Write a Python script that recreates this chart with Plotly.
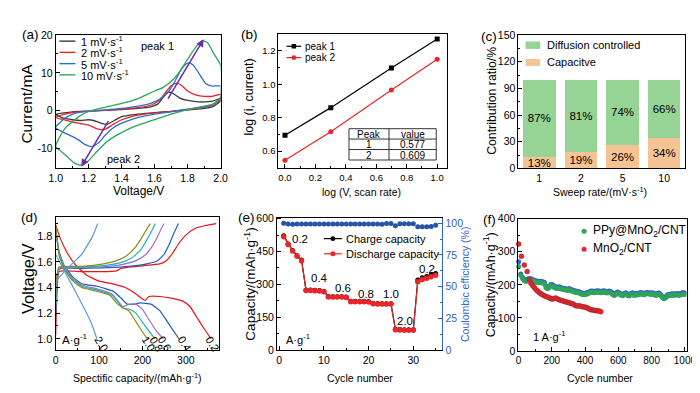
import plotly.graph_objects as go

W, H = 700, 393
FONT = "Arial, Liberation Sans, sans-serif"


def X(p):
    return p / W


def Y(p):
    return 1 - p / H


# ---------------- (a) cyclic voltammetry ----------------
cv_labels = ["1 mV·s<sup>-1</sup>", "2 mV·s<sup>-1</sup>", "5 mV·s<sup>-1</sup>", "10 mV·s<sup>-1</sup>"]
cv_colors = ["#3a3a3a", "#e8262a", "#2a6fc9", "#2fa35c"]

cv1_v_an = [1.00, 1.05, 1.10, 1.20, 1.30, 1.40, 1.50, 1.58, 1.62, 1.65, 1.68, 1.71, 1.75, 1.80, 1.85, 1.90, 1.95, 2.00]
cv1_i_an = [-1.0, -0.6, -0.3, -0.1, 0.1, 0.3, 0.6, 1.1, 1.8, 3.4, 4.9, 4.6, 3.4, 2.7, 2.4, 2.3, 2.5, 3.2]
cv1_v_ca = [2.00, 1.95, 1.90, 1.80, 1.70, 1.60, 1.50, 1.45, 1.40, 1.36, 1.31, 1.27, 1.23, 1.20, 1.15, 1.10, 1.05, 1.00]
cv1_i_ca = [2.6, 1.0, 0.6, 0.2, -0.2, -0.5, -0.9, -1.2, -1.6, -2.5, -3.6, -3.2, -2.6, -2.4, -2.6, -2.4, -2.0, -1.0]

cv2_v_an = [1.00, 1.05, 1.10, 1.20, 1.30, 1.40, 1.50, 1.58, 1.63, 1.67, 1.70, 1.73, 1.76, 1.80, 1.85, 1.90, 1.95, 2.00]
cv2_i_an = [-1.8, -1.0, -0.5, -0.2, 0.1, 0.4, 0.8, 1.5, 2.8, 5.0, 6.6, 7.2, 6.8, 5.2, 4.2, 3.8, 3.8, 4.3]
cv2_v_ca = [2.00, 1.95, 1.90, 1.80, 1.70, 1.60, 1.50, 1.45, 1.40, 1.35, 1.30, 1.27, 1.24, 1.20, 1.15, 1.10, 1.05, 1.00]
cv2_i_ca = [3.0, 1.4, 0.9, 0.3, -0.2, -0.6, -1.2, -1.7, -2.4, -3.6, -4.9, -5.0, -4.6, -3.8, -3.4, -3.0, -2.4, -1.8]

cv5_v_an = [1.00, 1.05, 1.10, 1.15, 1.20, 1.30, 1.40, 1.50, 1.58, 1.63, 1.68, 1.72, 1.76, 1.80, 1.83, 1.87, 1.91, 1.95, 2.00]
cv5_i_an = [-4.5, -2.2, -1.0, -0.4, -0.1, 0.2, 0.6, 1.2, 2.0, 3.0, 4.8, 7.5, 10.8, 12.6, 12.2, 9.8, 7.2, 6.5, 6.5]
cv5_v_ca = [2.00, 1.95, 1.90, 1.80, 1.70, 1.60, 1.50, 1.45, 1.40, 1.35, 1.30, 1.26, 1.22, 1.18, 1.14, 1.10, 1.05, 1.00]
cv5_i_ca = [3.5, 1.6, 1.0, 0.4, -0.3, -0.9, -1.8, -2.5, -3.3, -4.5, -6.5, -8.5, -9.5, -9.0, -7.8, -6.8, -5.8, -4.5]

cv10_v_an = [1.00, 1.03, 1.06, 1.10, 1.15, 1.20, 1.25, 1.30, 1.40, 1.50, 1.55, 1.60, 1.65, 1.70, 1.75, 1.80, 1.85, 1.89, 1.92, 1.96, 2.00]
cv10_i_an = [-9.5, -6.5, -4.5, -3.0, -1.3, -0.2, 0.4, 0.9, 1.9, 3.2, 4.2, 5.2, 6.1, 7.7, 10.2, 13.6, 16.8, 18.5, 18.0, 15.0, 12.0]
cv10_v_ca = [2.00, 1.96, 1.90, 1.80, 1.70, 1.60, 1.50, 1.45, 1.40, 1.35, 1.30, 1.25, 1.20, 1.16, 1.12, 1.08, 1.04, 1.00]
cv10_i_ca = [3.5, 1.8, 1.2, 0.3, -0.9, -2.4, -3.8, -4.7, -5.8, -7.0, -8.6, -10.8, -13.2, -14.4, -14.0, -12.6, -11.0, -9.5]

cv_v = [cv1_v_an + cv1_v_ca, cv2_v_an + cv2_v_ca, cv5_v_an + cv5_v_ca, cv10_v_an + cv10_v_ca]
cv_i = [cv1_i_an + cv1_i_ca, cv2_i_an + cv2_i_ca, cv5_i_an + cv5_i_ca, cv10_i_an + cv10_i_ca]

arrow1_tail, arrow1_head = (1.676, 2.8), (1.897, 18.9)
arrow2_tail, arrow2_head = (1.325, -2.4), (1.155, -14.8)

# ---------------- (b) log i vs log v ----------------
log_v = [0.0, 0.301, 0.699, 1.0]
log_i_peak1 = [0.695, 0.860, 1.097, 1.270]
log_i_peak2 = [0.545, 0.715, 0.965, 1.150]
table_header = ["Peak", "value"]
table_peaks = ["1", "2"]
table_values = ["0.577", "0.609"]

# ---------------- (c) contribution ratio ----------------
sweep_rates = ["1", "2", "5", "10"]
capacitive = [13, 19, 26, 34]
diffusion = [87, 81, 74, 66]

# ---------------- (d) GCD ----------------
gcd_rates = ["0.2", "0.4", "0.6", "0.8", "1.0", "2.0"]
gcd_colors = ["#e8141c", "#1f5fb8", "#9b6fd0", "#17b5c2", "#8c8c12", "#5b9bd5"]
chg_cap = [
    [0, 3, 8, 60, 120, 140, 150, 200, 240, 255, 270, 285, 300, 320, 345, 370],
    [0, 3, 8, 60, 120, 180, 210, 235, 250, 262, 272, 283],
    [0, 3, 8, 60, 120, 160, 185, 205, 220, 232, 242, 250],
    [0, 3, 8, 60, 120, 150, 175, 195, 208, 218, 230],
    [0, 3, 8, 60, 110, 140, 160, 180, 195, 207, 218],
    [0, 2, 30, 60, 85, 97],
]
chg_v = [
    [1.03, 1.35, 1.525, 1.525, 1.525, 1.53, 1.55, 1.57, 1.585, 1.61, 1.67, 1.75, 1.81, 1.86, 1.885, 1.90],
    [1.20, 1.45, 1.545, 1.55, 1.555, 1.57, 1.585, 1.61, 1.66, 1.74, 1.82, 1.90],
    [1.22, 1.47, 1.55, 1.555, 1.565, 1.585, 1.61, 1.65, 1.71, 1.78, 1.85, 1.90],
    [1.25, 1.48, 1.555, 1.56, 1.575, 1.595, 1.63, 1.69, 1.76, 1.82, 1.90],
    [1.28, 1.50, 1.56, 1.565, 1.585, 1.61, 1.64, 1.70, 1.77, 1.84, 1.90],
    [1.20, 1.45, 1.56, 1.66, 1.80, 1.90],
]
dis_cap = [
    [0, 10, 25, 45, 70, 100, 130, 160, 185, 200, 206, 215, 240, 270, 295, 310, 325, 340, 358],
    [0, 8, 20, 40, 60, 95, 133, 150, 165, 180, 195, 220, 240, 258, 272, 284],
    [0, 8, 20, 40, 60, 95, 130, 145, 155, 170, 185, 200, 215, 230, 248],
    [0, 8, 20, 40, 60, 95, 130, 145, 155, 170, 185, 200, 215, 229],
    [0, 8, 20, 40, 60, 95, 125, 140, 155, 168, 180, 195, 211],
    [0, 20, 50, 80, 95],
]
dis_v = [
    [1.89, 1.79, 1.68, 1.58, 1.50, 1.45, 1.43, 1.40, 1.35, 1.31, 1.30, 1.33, 1.33, 1.315, 1.29, 1.25, 1.17, 1.09, 1.00],
    [1.85, 1.68, 1.57, 1.48, 1.43, 1.41, 1.37, 1.32, 1.27, 1.27, 1.28, 1.27, 1.22, 1.13, 1.06, 1.00],
    [1.86, 1.67, 1.56, 1.47, 1.42, 1.39, 1.35, 1.29, 1.25, 1.27, 1.27, 1.23, 1.15, 1.07, 1.00],
    [1.87, 1.66, 1.55, 1.46, 1.41, 1.38, 1.34, 1.28, 1.24, 1.23, 1.20, 1.13, 1.06, 1.00],
    [1.88, 1.65, 1.54, 1.45, 1.40, 1.37, 1.34, 1.28, 1.24, 1.22, 1.16, 1.08, 1.00],
    [1.66, 1.53, 1.34, 1.14, 1.00],
]
gcd_label_cap = [362, 298, 252, 232, 215, 106]

# ---------------- (e) rate capability ----------------
cycles_e = list(range(1, 36))
discharge_e = [518, 482, 452, 428, 408, 272, 272, 271, 270, 266, 243, 242, 242, 242, 240, 221, 221, 221, 221, 220,
               212, 211, 210, 210, 210, 93, 92, 91, 91, 91, 312, 322, 328, 335, 342]
charge_e = [522, 485, 455, 431, 411, 274, 274, 273, 272, 268, 245, 244, 244, 244, 242, 223, 223, 223, 223, 222,
            214, 213, 212, 212, 212, 95, 94, 93, 93, 93, 320, 330, 336, 344, 350]
ce_e = [100, 99.5, 99.2, 99.5, 99.5, 99.5, 99.5, 99.5, 99.5, 99.5, 99.5, 99.5, 99.5, 99.5, 99.5, 99.5, 99.5, 99.5,
        99.5, 99.5, 99.5, 99.5, 99.3, 99.8, 99.8, 98.0, 99.6, 99.6, 99.6, 99.6, 97.3, 97.2, 97.2, 97.4, 98.4]
rate_e_labels = ["0.2", "0.4", "0.6", "0.8", "1.0", "2.0", "0.2"]
rate_e_pos = [(4.6, 508), (9.1, 330), (14.2, 283), (19.5, 254), (24.9, 254), (28.2, 131), (33.0, 370)]

# ---------------- (f) cycling ----------------
cyc_ppy = [1, 14] + list(range(25, 1001, 10))
ppy_discharge = [255, 228,
                 218, 212, 210, 213, 215, 214, 212, 210, 208, 207,
                 206, 207, 205, 204, 192, 188, 192, 197, 196, 192,
                 190, 189, 190, 188, 186, 185, 184, 183, 185, 182,
                 180, 178, 177, 176, 175, 172, 171, 170, 171, 173,
                 175, 177, 177, 176, 177, 178, 177, 176, 177, 178,
                 176, 175, 177, 176, 171, 168, 171, 174, 172, 169,
                 167, 170, 172, 168, 166, 170, 172, 168, 170, 169,
                 171, 173, 171, 170, 172, 173, 172, 171, 172, 170,
                 168, 170, 171, 167, 161, 158, 161, 166, 167, 168,
                 169, 168, 169, 170, 168, 170, 171, 170]
ppy_charge = [270, 233,
              222, 216, 214, 217, 219, 218, 216, 214, 212, 211,
              210, 211, 209, 208, 197, 193, 196, 201, 200, 196,
              194, 193, 194, 192, 190, 189, 188, 187, 189, 186,
              184, 182, 181, 180, 179, 176, 175, 174, 175, 177,
              179, 181, 181, 180, 181, 182, 181, 180, 181, 182,
              180, 179, 181, 180, 175, 172, 175, 178, 176, 173,
              171, 174, 176, 172, 170, 174, 176, 172, 174, 173,
              175, 177, 175, 174, 176, 177, 176, 175, 176, 174,
              172, 174, 175, 171, 165, 162, 165, 170, 171, 172,
              173, 172, 173, 174, 172, 174, 176, 176]
cyc_mno2 = [1, 18, 35, 52] + list(range(65, 501, 10))
mno2_discharge = [323, 286, 260, 240,
                  215, 205, 198, 192, 186, 181, 177, 173, 170, 167,
                  165, 163, 161, 158, 157, 159, 160, 157, 155, 153,
                  152, 150, 149, 147, 146, 144, 143, 140, 137, 136,
                  137, 135, 134, 133, 132, 130, 127, 125, 124, 123,
                  122, 122, 121, 119]

fig = go.Figure()

# (a) traces
for v, c, col in zip(cv_v, cv_i, cv_colors):
    fig.add_trace(go.Scatter(x=v, y=c, mode="lines", xaxis="x", yaxis="y", showlegend=False,
                             line=dict(color=col, width=1.3, shape="spline", smoothing=0.6)))

# (b) traces
fig.add_trace(go.Scatter(x=log_v, y=log_i_peak1, mode="lines+markers", xaxis="x2", yaxis="y2", showlegend=False,
                         line=dict(color="black", width=1.2), marker=dict(symbol="square", size=5, color="black")))
fig.add_trace(go.Scatter(x=log_v, y=log_i_peak2, mode="lines+markers", xaxis="x2", yaxis="y2", showlegend=False,
                         line=dict(color="#e8262a", width=1.2), marker=dict(symbol="circle", size=5, color="#e8262a")))

# (c) traces
GREEN_BAR, ORANGE_BAR = "#96d496", "#f6c494"
fig.add_trace(go.Bar(x=sweep_rates, y=capacitive, xaxis="x3", yaxis="y3", showlegend=False, marker_color=ORANGE_BAR,
                     marker_line_width=0, text=[f"{v}%" for v in capacitive], textposition="inside",
                     insidetextanchor="middle", constraintext="none", textangle=0,
                     textfont=dict(family=FONT, size=11.5, color="black")))
fig.add_trace(go.Bar(x=sweep_rates, y=diffusion, xaxis="x3", yaxis="y3", showlegend=False, marker_color=GREEN_BAR,
                     marker_line_width=0, text=[f"{v}%" for v in diffusion], textposition="inside",
                     insidetextanchor="middle", constraintext="none", textangle=0,
                     textfont=dict(family=FONT, size=11.5, color="black")))

# (d) traces
for k in range(len(gcd_rates)):
    fig.add_trace(go.Scatter(x=chg_cap[k], y=chg_v[k], mode="lines", xaxis="x4", yaxis="y4", showlegend=False,
                             line=dict(color=gcd_colors[k], width=1.2, shape="spline", smoothing=0.4)))
    fig.add_trace(go.Scatter(x=dis_cap[k], y=dis_v[k], mode="lines", xaxis="x4", yaxis="y4", showlegend=False,
                             line=dict(color=gcd_colors[k], width=1.2, shape="spline", smoothing=0.4)))

# (e) traces
BLUE_CE = "#2453a8"
BLUE_AX = "#2f63c4"
fig.add_trace(go.Scatter(x=cycles_e, y=charge_e, mode="lines+markers", xaxis="x5", yaxis="y5", showlegend=False,
                         line=dict(color="black", width=1.2), marker=dict(size=5, color="black")))
fig.add_trace(go.Scatter(x=cycles_e, y=discharge_e, mode="lines+markers", xaxis="x5", yaxis="y5", showlegend=False,
                         line=dict(color="#e8262a", width=1.2), marker=dict(size=5.5, color="#e8262a")))
fig.add_trace(go.Scatter(x=cycles_e, y=ce_e, mode="markers", xaxis="x5", yaxis="y7", showlegend=False,
                         marker=dict(size=5, color=BLUE_CE), cliponaxis=False))

# (f) traces
fig.add_trace(go.Scatter(x=cyc_ppy, y=ppy_charge, mode="markers", xaxis="x6", yaxis="y6", showlegend=False,
                         marker=dict(size=5, color="#2e66c8"), cliponaxis=False))
fig.add_trace(go.Scatter(x=cyc_ppy, y=ppy_discharge, mode="markers", xaxis="x6", yaxis="y6", showlegend=False,
                         marker=dict(size=5, color="#2fa35c"), cliponaxis=False))
fig.add_trace(go.Scatter(x=cyc_mno2, y=mno2_discharge, mode="markers", xaxis="x6", yaxis="y6", showlegend=False,
                         marker=dict(size=5, color="#e8262a", line=dict(width=0.4, color="#7a2a2a")), cliponaxis=False))


def axis(domain, rng, anchor, **kw):
    d = dict(domain=domain, range=rng, anchor=anchor, showline=True, linecolor="black", linewidth=1, mirror=True,
             ticks="inside", ticklen=4, tickwidth=1, tickcolor="black", showgrid=False, zeroline=False,
             tickfont=dict(family=FONT, size=10.5, color="black"))
    d.update(kw)
    return d


def minor(dt):
    return dict(ticks="inside", ticklen=2, tickcolor="black", dtick=dt)


A_X, A_Y = [X(41.7), X(210.7)], [Y(159), Y(21.7)]
B_X, B_Y = [X(270), X(443)], [Y(159), Y(20.7)]
C_X, C_Y = [X(516), X(686.7)], [Y(159.3), Y(21.7)]
D_X, D_Y = [X(41.7), X(209.3)], [Y(346.7), Y(209.3)]
E_X, E_Y = [X(268.5), X(438)], [Y(346.7), Y(210)]
F_X, F_Y = [X(516), X(688.3)], [Y(347.7), Y(211)]

fig.update_layout(
    width=W, height=H, margin=dict(l=0, r=0, t=0, b=0), autosize=False,
    paper_bgcolor="white", plot_bgcolor="white", showlegend=False,
    font=dict(family=FONT, color="black"), barmode="stack", bargap=0.22,
    xaxis=axis(A_X, [1.0, 2.0], "y", dtick=0.2, tickformat=".1f", minor=minor(0.1)),
    yaxis=axis(A_Y, [-15.2, 20], "x", tickvals=[-10, 0, 10, 20], ticktext=["-10", "0", "10", "20"], minor=minor(5)),
    xaxis2=axis(B_X, [-0.043, 1.066], "y2", dtick=0.2, tickformat=".1f", minor=minor(0.1),
                tickfont=dict(family=FONT, size=9.5)),
    yaxis2=axis(B_Y, [0.498, 1.3], "x2", tickvals=[0.6, 0.8, 1.0, 1.2], tickformat=".1f", minor=minor(0.1),
                tickfont=dict(family=FONT, size=9.5)),
    xaxis3=axis(C_X, None, "y3", type="category", ticks=""),
    yaxis3=axis(C_Y, [0, 150], "x3", dtick=30, minor=minor(15)),
    xaxis4=axis(D_X, [0, 377], "y4", dtick=100, minor=minor(50)),
    yaxis4=axis(D_Y, [0.911, 1.952], "x4", tickvals=[1.0, 1.2, 1.4, 1.6, 1.8], tickformat=".1f", minor=minor(0.1),
                tickfont=dict(family=FONT, size=11)),
    xaxis5=axis(E_X, [-0.5, 36.5], "y5", dtick=10, minor=minor(5)),
    yaxis5=axis(E_Y, [0, 605], "x5", dtick=150, mirror=False, minor=minor(75)),
    yaxis7=dict(domain=E_Y, range=[0, 104.5], anchor="x5", overlaying="y5", side="right", showline=True,
                linecolor=BLUE_AX, linewidth=1, ticks="inside", ticklen=4, tickcolor=BLUE_AX, showgrid=False,
                zeroline=False, dtick=25, tickfont=dict(family=FONT, size=10.5, color=BLUE_AX),
                minor=dict(ticks="inside", ticklen=2, tickcolor=BLUE_AX, dtick=12.5)),
    xaxis6=axis(F_X, [0, 1010], "y6", dtick=200, minor=minor(100), tickfont=dict(family=FONT, size=10)),
    yaxis6=axis(F_Y, [0, 400], "x6", dtick=100, minor=minor(50)),
)

ann = []
shapes = []


def text_px(x, y, text, size=11, color="black", angle=0, xanchor="center"):
    ann.append(dict(text=text, x=X(x), y=Y(y), xref="paper", yref="paper", showarrow=False, textangle=angle,
                    xanchor=xanchor, yanchor="middle", font=dict(family=FONT, size=size, color=color)))


# panel labels
for lab, (x, y) in zip(["(a)", "(b)", "(c)", "(d)", "(e)", "(f)"],
                       [(15.5, 21), (240, 21), (486, 23), (15, 210), (237.5, 210), (486, 212)]):
    text_px(x, y, lab, size=13.5)

# axis titles (placed as text at the reference positions)
text_px(127, 183, "Voltage/V", size=12)
text_px(11.7, 92, "Current/mA", size=15.5, angle=-90)
text_px(355, 183.3, "log (V, scan rate)", size=10.5)
text_px(240, 86, "log (i, current)", size=12.5, angle=-90)
text_px(599.3, 183.3, "Sweep rate/(mV·s<sup>-1</sup>)", size=10.5)
text_px(489.5, 90, "Contribution ratio/%", size=12.3, angle=-90)
text_px(126, 375, "Spectific capacity/(mAh·g<sup>-1</sup>)", size=10.5)
text_px(12.7, 273, "Voltage/V", size=16.5, angle=-90)
text_px(354, 375, "Cycle number", size=10.7)
text_px(241, 279, "Capacity/(mAh·g<sup>-1</sup>)", size=13.5, angle=-90)
text_px(461.7, 279, "Coulombic efficiency (%)", size=10.5, color=BLUE_AX, angle=-90)
text_px(600, 375, "Cycle number", size=10.7)
text_px(486.7, 279, "Capacity/(mAh·g<sup>-1</sup>)", size=12.5, angle=-90)


def leg_line(x0, x1, y, color, width=1.4):
    shapes.append(dict(type="line", xref="paper", yref="paper", x0=X(x0), x1=X(x1), y0=Y(y), y1=Y(y),
                       line=dict(color=color, width=width)))


def leg_marker(xc, y, color, kind="circle", r=2.6):
    shapes.append(dict(type="circle" if kind == "circle" else "rect", xref="paper", yref="paper",
                       x0=X(xc - r), x1=X(xc + r), y0=Y(y + r), y1=Y(y - r),
                       fillcolor=color, line=dict(color=color, width=0)))


# (a) legend
for k, (lab, col) in enumerate(zip(cv_labels, cv_colors)):
    yy = 28 + 11.6 * k
    leg_line(45.5, 62, yy, col)
    text_px(66, yy, lab, size=11, xanchor="left")
ann.append(dict(text="peak 1", x=1.62, y=17.0, xref="x", yref="y", showarrow=False,
                font=dict(family=FONT, size=11), xanchor="center", yanchor="middle"))
ann.append(dict(text="peak 2", x=1.413, y=-12.8, xref="x", yref="y", showarrow=False,
                font=dict(family=FONT, size=11), xanchor="center", yanchor="middle"))
for tail, head in [(arrow1_tail, arrow1_head), (arrow2_tail, arrow2_head)]:
    ann.append(dict(text="", x=head[0], y=head[1], ax=tail[0], ay=tail[1], xref="x", yref="y", axref="x",
                    ayref="y", showarrow=True, arrowhead=2, arrowsize=1, arrowwidth=1.5, arrowcolor="#6a2bb0"))

# (b) legend
leg_line(278.3, 293.3, 33.3, "black", 1.2)
leg_marker(285.8, 33.3, "black", "rect", 2.3)
text_px(295.5, 33.3, "peak 1", size=10, xanchor="left")
leg_line(278.3, 293.3, 45, "#e8262a", 1.2)
leg_marker(285.8, 45, "#e8262a", "circle", 2.4)
text_px(295.5, 45, "peak 2", size=10, xanchor="left")

# (b) inset table
TX = [342.3, 383.3, 431.7]
TY = [118.3, 129.0, 139.8, 150.6]
shapes.append(dict(type="rect", xref="paper", yref="paper", x0=X(TX[0]), x1=X(TX[2]), y0=Y(TY[3]), y1=Y(TY[0]),
                   fillcolor="white", line=dict(color="#333", width=1)))
shapes.append(dict(type="line", xref="paper", yref="paper", x0=X(TX[1]), x1=X(TX[1]), y0=Y(TY[3]), y1=Y(TY[0]),
                   line=dict(color="#333", width=1)))
for yy in TY[1:3]:
    shapes.append(dict(type="line", xref="paper", yref="paper", x0=X(TX[0]), x1=X(TX[2]), y0=Y(yy), y1=Y(yy),
                       line=dict(color="#333", width=1)))
rows = [table_header] + [[p, v] for p, v in zip(table_peaks, table_values)]
for r, row in enumerate(rows):
    yc = (TY[r] + TY[r + 1]) / 2 + 0.3
    text_px((TX[0] + TX[1]) / 2, yc, row[0], size=10)
    text_px((TX[1] + TX[2]) / 2, yc, row[1], size=10)

# (c) legend
shapes.append(dict(type="rect", xref="paper", yref="paper", x0=X(523.3), x1=X(538.3), y0=Y(36), y1=Y(28.3),
                   fillcolor=GREEN_BAR, line=dict(width=0)))
shapes.append(dict(type="rect", xref="paper", yref="paper", x0=X(523.3), x1=X(538.3), y0=Y(53.6), y1=Y(46.4),
                   fillcolor=ORANGE_BAR, line=dict(width=0)))
text_px(542.7, 32.3, "Diffusion controlled", size=11, xanchor="left")
text_px(542.7, 50, "Capacitve", size=11, xanchor="left")

# (d) rate labels
for lab, cap in zip(gcd_rates, gcd_label_cap):
    ann.append(dict(text=lab, x=cap, y=0.96, xref="x4", yref="y4", showarrow=False, textangle=58,
                    font=dict(family=FONT, size=11, color="black"), xanchor="center", yanchor="middle"))
ann.append(dict(text="A·g<sup>-1</sup>", x=45, y=1.0, xref="x4", yref="y4", showarrow=False,
                font=dict(family=FONT, size=11.5), xanchor="center", yanchor="middle"))

# (e) labels and legend
for lab, (cx, cy) in zip(rate_e_labels, rate_e_pos):
    ann.append(dict(text=lab, x=cx, y=cy, xref="x5", yref="y5", showarrow=False,
                    font=dict(family=FONT, size=11.5), xanchor="center", yanchor="middle"))
ann.append(dict(text="A·g<sup>-1</sup>", x=4.2, y=50, xref="x5", yref="y5", showarrow=False,
                font=dict(family=FONT, size=11), xanchor="center", yanchor="middle"))
leg_line(316.7, 335, 231.7, "black", 1.2)
leg_marker(325.8, 231.7, "black", "circle", 2.5)
text_px(337.5, 231.7, "Charge capacity", size=11, xanchor="left")
leg_line(316.7, 335, 247.3, "#e8262a", 1.2)
leg_marker(325.8, 247.3, "#e8262a", "circle", 2.7)
text_px(337.5, 247.3, "Discharge capacity", size=11, xanchor="left")

# (f) legend and label
leg_marker(583.3, 224, "#2fa35c", "circle", 2.6)
text_px(590, 224, "PPy@MnO<sub>2</sub>/CNT", size=12, xanchor="left")
leg_marker(583.3, 242.7, "#e8262a", "circle", 2.6)
text_px(590, 242.7, "MnO<sub>2</sub>/CNT", size=12, xanchor="left")
ann.append(dict(text="1 A·g<sup>-1</sup>", x=187, y=47, xref="x6", yref="y6", showarrow=False,
                font=dict(family=FONT, size=11), xanchor="center", yanchor="middle"))

fig.update_layout(annotations=ann, shapes=shapes)
fig.write_html("out.html")
